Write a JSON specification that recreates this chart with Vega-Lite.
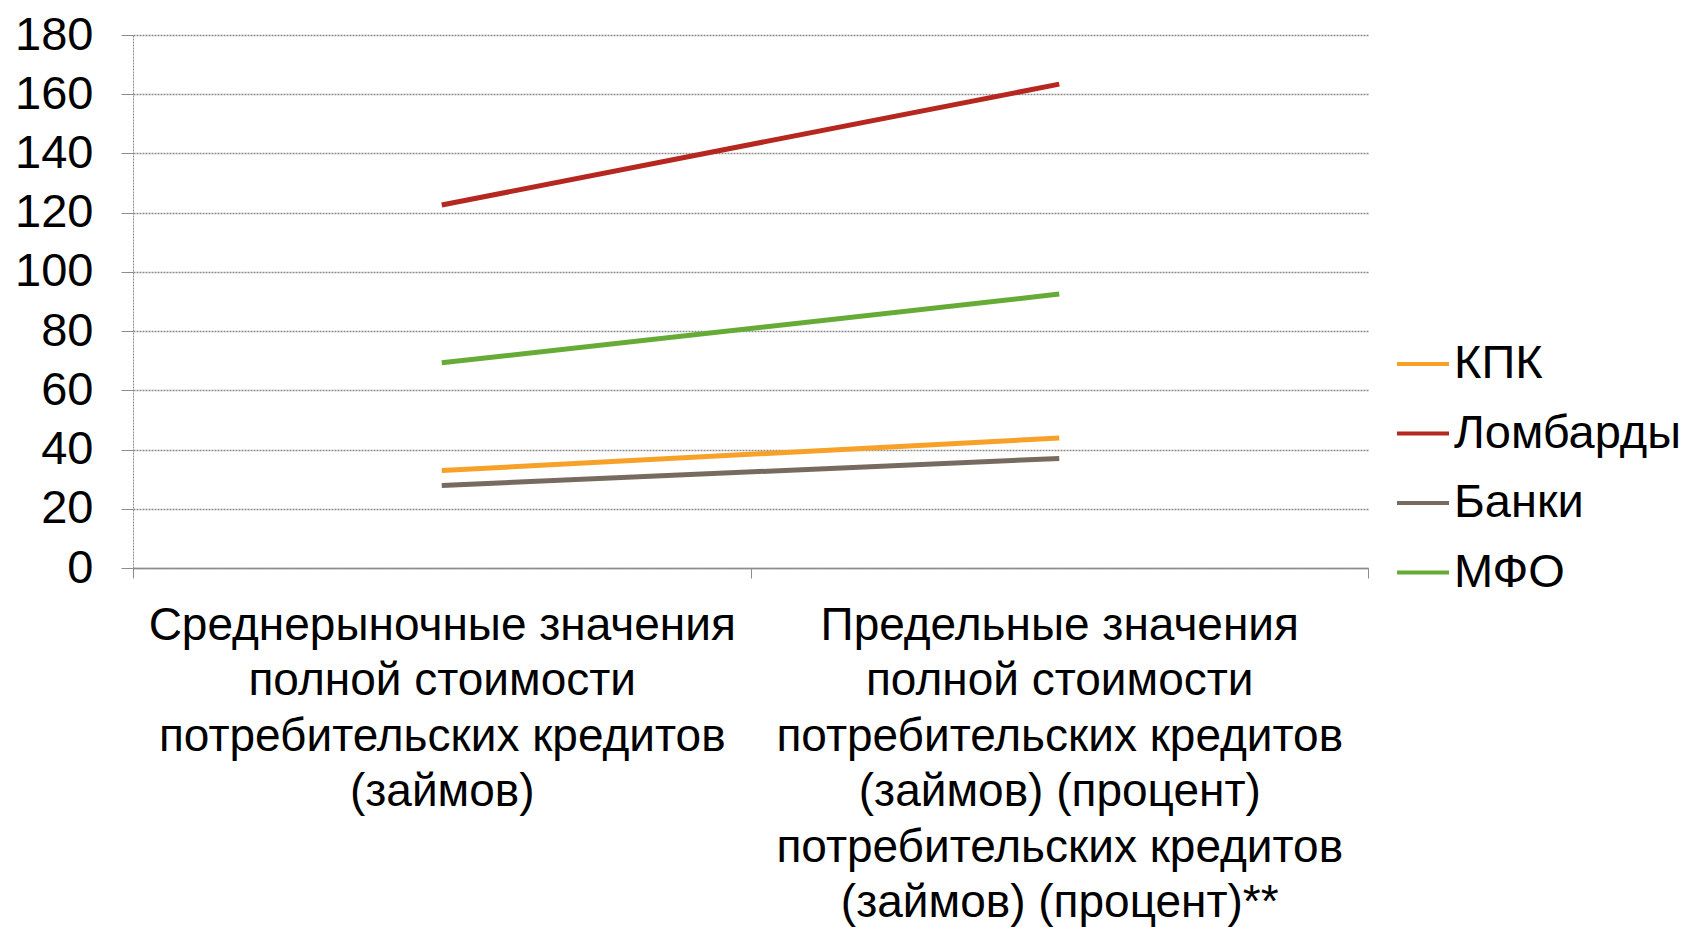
{
  "$schema": "https://vega.github.io/schema/vega-lite/v6.json",
  "width": 1235,
  "height": 533,
  "autosize": {"type": "none"},
  "padding": {"left": 133, "top": 35, "right": 321, "bottom": 359},
  "background": "white",
  "config": {
    "font": "Liberation Sans",
    "view": {"stroke": null}
  },
  "data": {
    "values": [
      {"cat": "Среднерыночные значения|полной стоимости|потребительских кредитов|(займов)", "series": "КПК", "value": 32.9},
      {"cat": "Предельные значения|полной стоимости|потребительских кредитов|(займов) (процент)|потребительских кредитов|(займов) (процент)**", "series": "КПК", "value": 43.9},
      {"cat": "Среднерыночные значения|полной стоимости|потребительских кредитов|(займов)", "series": "Ломбарды", "value": 122.6},
      {"cat": "Предельные значения|полной стоимости|потребительских кредитов|(займов) (процент)|потребительских кредитов|(займов) (процент)**", "series": "Ломбарды", "value": 163.4},
      {"cat": "Среднерыночные значения|полной стоимости|потребительских кредитов|(займов)", "series": "Банки", "value": 27.9},
      {"cat": "Предельные значения|полной стоимости|потребительских кредитов|(займов) (процент)|потребительских кредитов|(займов) (процент)**", "series": "Банки", "value": 37.0},
      {"cat": "Среднерыночные значения|полной стоимости|потребительских кредитов|(займов)", "series": "МФО", "value": 69.3},
      {"cat": "Предельные значения|полной стоимости|потребительских кредитов|(займов) (процент)|потребительских кредитов|(займов) (процент)**", "series": "МФО", "value": 92.5}
    ]
  },
  "mark": {"type": "line", "strokeWidth": 5},
  "encoding": {
    "x": {
      "field": "cat",
      "type": "nominal",
      "sort": null,
      "scale": {"paddingInner": 0, "paddingOuter": 0},
      "axis": {
        "title": null,
        "labelExpr": "split(datum.label, '|')",
        "labelAngle": 0,
        "labelFontSize": 46,
        "labelLineHeight": 55.5,
        "labelColor": "black",
        "labelLimit": 0,
        "labelPadding": 25,
        "labelBaseline": "top",
        "tickBand": "extent",
        "tickSize": 10,
        "tickColor": "#8c8c8c",
        "domainColor": "#8c8c8c",
        "domainWidth": 1.5,
        "grid": false
      }
    },
    "y": {
      "field": "value",
      "type": "quantitative",
      "scale": {"domain": [0, 180], "nice": false},
      "axis": {
        "title": null,
        "values": [0, 20, 40, 60, 80, 100, 120, 140, 160, 180],
        "labelFontSize": 47,
        "labelColor": "black",
        "labelPadding": 28,
        "tickSize": 12,
        "tickColor": "#8c8c8c",
        "domainColor": "#8c8c8c",
        "domainDash": [2, 1],
        "gridColor": "#8c8c8c",
        "gridDash": [2, 1],
        "gridWidth": 1.5
      }
    },
    "color": {
      "field": "series",
      "type": "nominal",
      "sort": ["КПК", "Ломбарды", "Банки", "МФО"],
      "scale": {
        "domain": ["КПК", "Ломбарды", "Банки", "МФО"],
        "range": ["#F7A128", "#B5271F", "#776B5F", "#67AB37"]
      },
      "legend": {
        "title": null,
        "orient": "none",
        "legendX": 1262,
        "legendY": 301,
        "symbolType": "stroke",
        "symbolSize": 2704,
        "symbolStrokeWidth": 4,
        "labelFontSize": 47,
        "labelColor": "black",
        "labelOffset": 3,
        "rowPadding": 18.5,
        "labelLimit": 0
      }
    }
  }
}
